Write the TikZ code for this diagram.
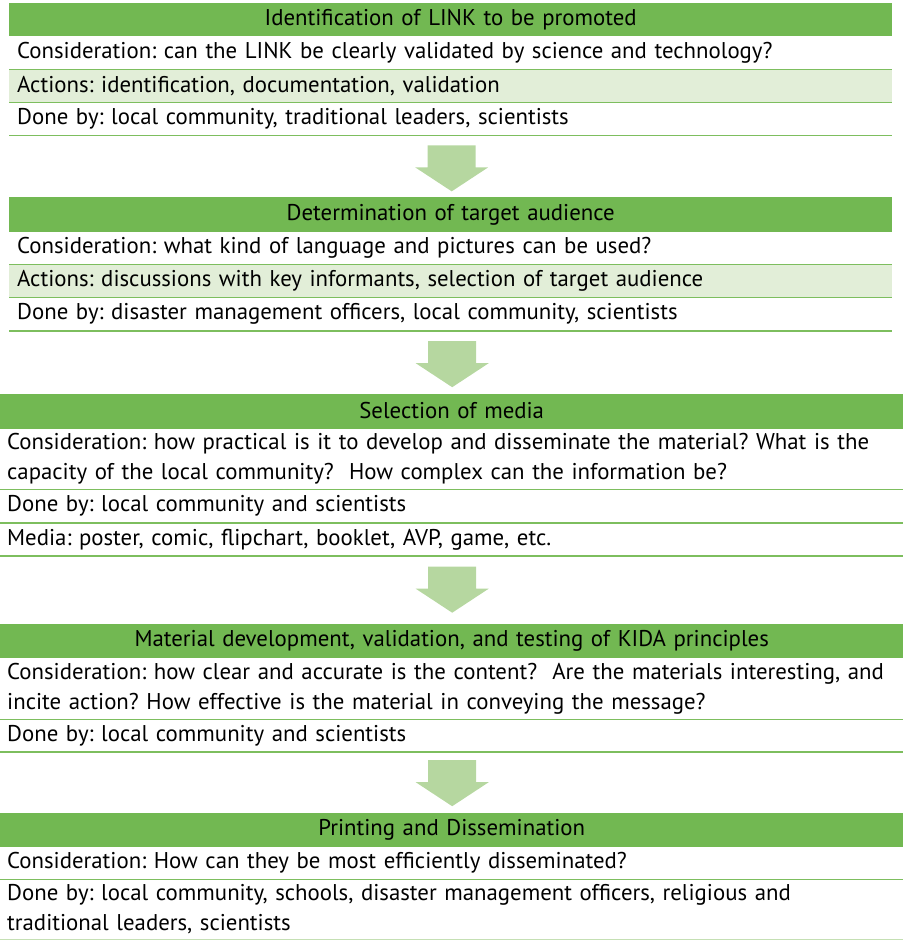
\documentclass[tikz,border=0pt]{standalone}
\usepackage{fontspec}
\setmainfont{PT Sans}
\usetikzlibrary{calc}
\definecolor{headgreen}{HTML}{72B852}
\definecolor{bandfill}{HTML}{E2EED8}
\definecolor{rowline}{HTML}{7DBE5E}
\definecolor{lastline}{HTML}{C5E0B4}
\definecolor{arrowfill}{HTML}{B6D7A0}
\tikzset{
  cell/.style={anchor=north west, inner ysep=0pt, align=left,
    font=\fontsize{22.8}{30}\selectfont\frenchspacing, text=black},
  narrow/.style={cell, text width=867pt, inner xsep=8pt, minimum height=#1},
  wide/.style={cell, text width=889pt, inner xsep=7pt, minimum height=#1},
  head/.style={fill=headgreen, align=center},
  band/.style={fill=bandfill},
  rowrule/.style={draw=rowline, line width=1.5pt},
  lastrule/.style={draw=lastline, line width=1.5pt},
  flow/.style={fill=arrowfill}
}
\newcommand\flowarrow[1]{%
  \fill[flow] ($(#1)+(-24,-23)$) -- ($(#1)+(24,-23)$) -- ($(#1)+(24,-1)$)
    -- ($(#1)+(36.5,-1)$) -- ($(#1)+(0,23)$) -- ($(#1)+(-36.5,-1)$)
    -- ($(#1)+(-24,-1)$) -- cycle;}
\begin{document}
\begin{tikzpicture}[x=1pt,y=-1pt]
\useasboundingbox (0,0) rectangle (903,941);
% Block 1
\node[narrow=33.3pt, head] (h1) at (9,2.7) {Identification of LINK to be promoted};
\node[narrow=33pt] (c1) at (9,36) {Consideration: can the LINK be clearly validated by science and technology?};
\node[narrow=33pt, band] (a1) at (9,69) {Actions: identification, documentation, validation};
\node[narrow=33pt] (d1) at (9,102) {Done by: local community, traditional leaders, scientists};
% Block 2
\node[narrow=34.4pt, head] (h2) at (9,197.3) {Determination of target audience};
\node[narrow=32.3pt] (c2) at (9,231.7) {Consideration: what kind of language and pictures can be used?};
\node[narrow=33.3pt, band] (a2) at (9,264) {Actions: discussions with key informants, selection of target audience};
\node[narrow=33.4pt] (d2) at (9,297.3) {Done by: disaster management officers, local community, scientists};
% Block 3
\node[wide=35pt, head] (h3) at (0,393.3) {Selection of media};
\node[wide=61pt] (c3) at (0,428.3) {Consideration: how practical is it to develop and disseminate the material? What is the\\capacity of the local community?\ \ How complex can the information be?};
\node[wide=33.4pt] (d3) at (0,489.3) {Done by: local community and scientists};
\node[wide=33pt] (m3) at (0,522.7) {Media: poster, comic, flipchart, booklet, AVP, game, etc.};
% Block 4
\node[wide=34pt, head] (h4) at (0,623.3) {Material development, validation, and testing of KIDA principles};
\node[wide=61.7pt] (c4) at (0,657.3) {Consideration: how clear and accurate is the content?\ \ Are the materials interesting, and\\incite action? How effective is the material in conveying the message?};
\node[wide=32.7pt] (d4) at (0,719) {Done by: local community and scientists};
% Block 5
\node[wide=34.4pt, head] (h5) at (0,812.3) {Printing and Dissemination};
\node[wide=32.6pt] (c5) at (0,846.7) {Consideration: How can they be most efficiently disseminated?};
\node[wide=60pt] (d5) at (0,879.3) {Done by: local community, schools, disaster management officers, religious and\\traditional leaders, scientists};
% rules
\foreach \r in {c1,a1,d1,c2,a2,d2,c3,d3,m3,c4,d4,c5}
  \draw[rowrule] (\r.south west) -- (\r.south east);
\draw[lastrule] (d5.south west) -- (d5.south east);
% arrows
\coordinate (f1) at ($(d1.south)!0.5!(h2.north)+(1,2)$);
\coordinate (f2) at ($(d2.south)!0.5!(h3.north)+(1,2)$);
\coordinate (f3) at ($(m3.south)!0.5!(h4.north)+(0.5,0)$);
\coordinate (f4) at ($(d4.south)!0.5!(h5.north)+(0.5,1)$);
\flowarrow{f1}
\flowarrow{f2}
\flowarrow{f3}
\flowarrow{f4}
\end{tikzpicture}
\end{document}
